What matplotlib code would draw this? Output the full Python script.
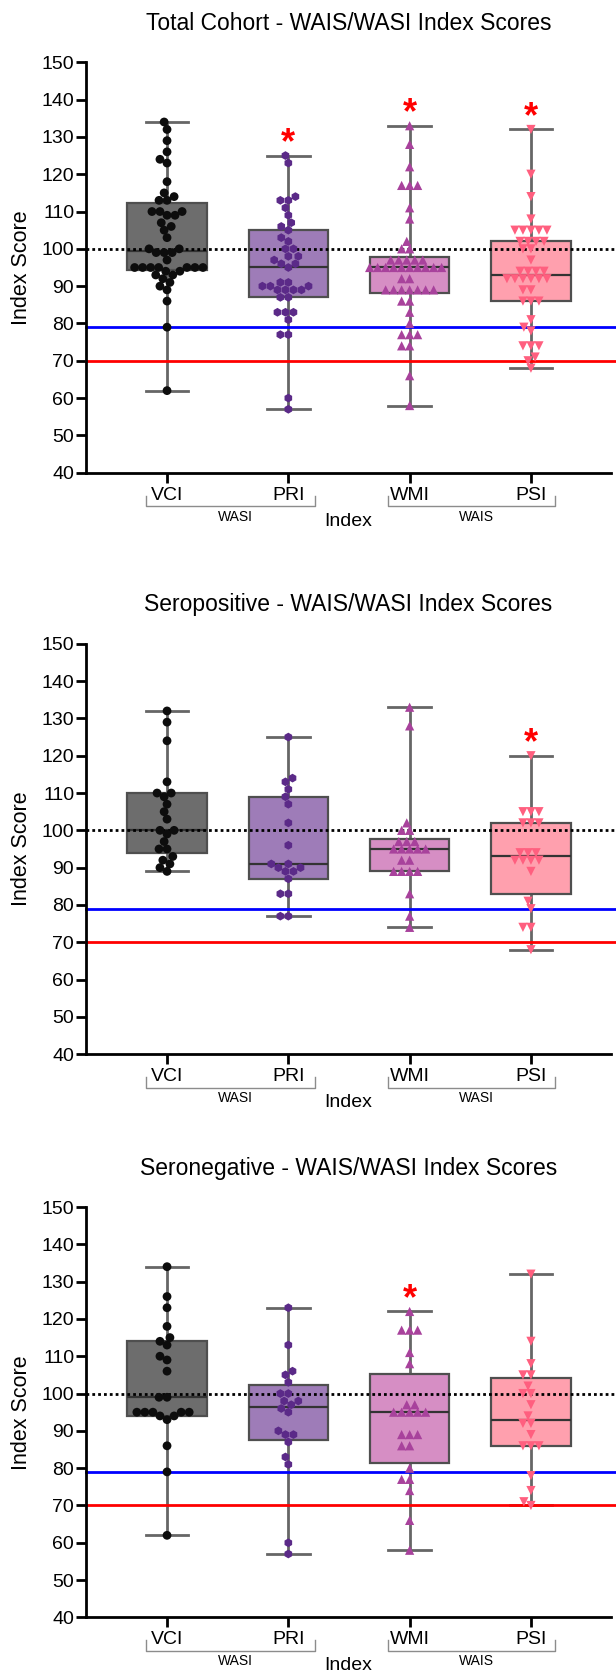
import numpy as np
import matplotlib
matplotlib.use('Agg')
import matplotlib.pyplot as plt
from matplotlib.transforms import blended_transform_factory

plt.rcParams['font.family'] = ['Liberation Sans', 'DejaVu Sans']

# ---------------- data ----------------
categories = ['VCI', 'PRI', 'WMI', 'PSI']
titles = ['Total Cohort - WAIS/WASI Index Scores',
          'Seropositive - WAIS/WASI Index Scores',
          'Seronegative - WAIS/WASI Index Scores']
group_labels = [['WASI', 'WAIS'], ['WASI', 'WASI'], ['WASI', 'WAIS']]

total_vci = [134, 132, 129, 126, 124, 123, 118, 115, 114, 113, 113, 110, 110, 110, 109, 109,
             107, 106, 105, 103, 100, 100, 99, 99, 99, 97, 95, 95, 95, 95, 95, 95, 95, 94, 94,
             93, 93, 92, 91, 90, 89, 86, 79, 62]
total_pri = [125, 123, 114, 113, 113, 111, 109, 107, 106, 105, 103, 102, 100, 100, 98, 98, 97,
             96, 96, 95, 91, 91, 90, 90, 90, 89, 89, 89, 89, 87, 87, 83, 83, 83, 81, 77, 77, 60, 57]
total_wmi = [133, 128, 122, 117, 117, 117, 111, 108, 102, 100, 100, 97, 97, 97, 97, 97,
             95, 95, 95, 95, 95, 95, 95, 95, 95, 95, 92, 92, 89, 89, 89, 89, 89, 89, 89,
             86, 86, 83, 80, 77, 77, 77, 74, 74, 66, 58]
total_psi = [132, 120, 114, 108, 105, 105, 105, 105, 105, 102, 102, 102, 102, 100, 100, 97,
             94, 94, 94, 94, 92, 92, 92, 92, 92, 92, 89, 89, 86, 86, 86, 81, 79, 78, 74, 74, 74,
             71, 70, 68]

pos_vci = [132, 129, 124, 113, 110, 110, 109, 107, 105, 103, 100, 100, 99, 97, 95, 95, 93, 92,
           91, 90, 89]
pos_pri = [125, 114, 113, 111, 109, 107, 102, 96, 91, 91, 90, 90, 89, 89, 87, 83, 83, 77, 77]
pos_wmi = [133, 128, 102, 100, 100, 97, 97, 97, 95, 95, 95, 95, 95, 92, 92, 89, 89, 89, 89,
           83, 77, 74]
pos_psi = [120, 105, 105, 105, 102, 102, 102, 94, 94, 94, 92, 92, 92, 92, 89, 81, 79, 74, 74, 68]

neg_vci = [134, 126, 123, 118, 115, 114, 113, 110, 109, 106, 99, 99, 95, 95, 95, 95, 95, 94, 94,
           93, 86, 79, 62]
neg_pri = [123, 113, 106, 105, 103, 100, 100, 98, 98, 97, 96, 95, 90, 89, 89, 87, 83, 81, 60, 57]
neg_wmi = [122, 117, 117, 117, 111, 108, 97, 97, 95, 95, 95, 95, 95, 89, 89, 89, 86, 86, 80,
           77, 77, 74, 66, 58]
neg_psi = [132, 114, 108, 105, 105, 102, 100, 100, 97, 94, 92, 92, 89, 86, 86, 86, 78, 74, 71, 70]

panels = [[total_vci, total_pri, total_wmi, total_psi],
          [pos_vci, pos_pri, pos_wmi, pos_psi],
          [neg_vci, neg_pri, neg_wmi, neg_psi]]
significant = [[False, True, True, True],
               [False, False, False, True],
               [False, False, True, False]]

ref_mean, ref_borderline, ref_impaired = 100, 79, 70

# ---------------- style ----------------
box_colors = ['#6d6d6d', '#9e7cb8', '#d68ec4', '#ffa0ae']
point_colors = ['#0d0d0d', '#5b2a88', '#a8429c', '#ff5f7f']
markers = ['o', 'h', '^', 'v']
marker_sizes = [40, 40, 44, 44]

W, H = 616, 1672
fig = plt.figure(figsize=(W / 100, H / 100), dpi=100)

ax_left, ax_right = 86, 611
panel_tops = [62.3, 643.8, 1207.0]
ax_h = 410.4
XL = (-0.668, 3.66)


def beeswarm(ypx, d):
    order = np.argsort(ypx, kind='stable')
    placed = []
    offs = np.zeros(len(ypx))
    for i in order:
        yi = ypx[i]
        neigh = [(px, py) for px, py in placed if abs(py - yi) < d]
        cands = [0.0]
        for px, py in neigh:
            dx = np.sqrt(d * d - (py - yi) ** 2)
            cands += [px + dx, px - dx]
        cands = sorted(cands, key=lambda c: (abs(c), c))
        chosen = cands[-1]
        for c in cands:
            if all((c - px) ** 2 + (yi - py) ** 2 >= d * d - 1e-6 for px, py in neigh):
                chosen = c
                break
        offs[i] = chosen
        placed.append((chosen, yi))
    return offs


for p, (data, title, glabels, sig) in enumerate(zip(panels, titles, group_labels, significant)):
    top = panel_tops[p]
    ax = fig.add_axes([ax_left / W, 1 - (top + ax_h) / H, (ax_right - ax_left) / W, ax_h / H])
    ax.set_xlim(*XL)
    ax.set_ylim(40, 150)

    stats = []
    for vals in data:
        v = np.asarray(vals, dtype=float)
        q1, med, q3 = np.percentile(v, [25, 50, 75], method='weibull')
        stats.append(dict(med=med, q1=q1, q3=q3, whislo=v.min(), whishi=v.max(), fliers=[]))
    bp = ax.bxp(stats, positions=range(4), widths=0.655, capwidths=0.35, patch_artist=True,
                showfliers=False,
                boxprops=dict(edgecolor='#4f4f4f', linewidth=1.6, zorder=1),
                whiskerprops=dict(color='#666666', linewidth=2.0, zorder=0.9),
                capprops=dict(color='#666666', linewidth=2.0, zorder=0.9),
                medianprops=dict(color='#333333', linewidth=1.6, zorder=1.2))
    for patch, c in zip(bp['boxes'], box_colors):
        patch.set_facecolor(c)

    frac_end = (W - ax_left) / (ax_right - ax_left)
    ax.axhline(ref_mean, xmin=0, xmax=frac_end, color='black', lw=2.0,
               linestyle=(0, (1, 1.1)), zorder=2, clip_on=False)
    ax.axhline(ref_borderline, xmin=0, xmax=frac_end, color='#0000ff', lw=2.0, zorder=2,
               clip_on=False)
    ax.axhline(ref_impaired, xmin=0, xmax=frac_end, color='#ff0000', lw=2.0, zorder=2,
               clip_on=False)

    # swarm offsets computed in pixel space
    fig.canvas.draw()
    bb = ax.get_window_extent()
    px_per_x = bb.width / (XL[1] - XL[0])
    px_per_y = bb.height / 110.0
    d = 8.0
    for i, vals in enumerate(data):
        v = np.asarray(vals, dtype=float)
        offs = beeswarm(v * px_per_y, d) / px_per_x
        ax.scatter(i + offs, v, s=marker_sizes[i], marker=markers[i], color=point_colors[i],
                   edgecolors='none', zorder=3, clip_on=False)

    for i, s in enumerate(sig):
        if s:
            ax.annotate('*', xy=(i, stats[i]['whishi']), xytext=(0, 1.5),
                        textcoords='offset points', ha='center', va='baseline',
                        color='#ff0000', fontsize=26, fontweight='bold')

    for side in ['top', 'right']:
        ax.spines[side].set_visible(False)
    for side in ['left', 'bottom']:
        ax.spines[side].set_linewidth(2.0)
    ax.set_yticks(np.arange(40, 151, 10))
    ax.set_xticks(range(4))
    ax.set_xticklabels(categories)
    ax.tick_params(axis='both', width=2.0, length=7, labelsize=14, color='black')
    ax.tick_params(axis='y', pad=1.5)
    ax.tick_params(axis='x', pad=3)

    ax.text(0.5, 1 + 39 / ax_h, title, transform=ax.transAxes, ha='center', va='center',
            fontsize=16.5)
    ax.text((21.7 - ax_left) / (ax_right - ax_left), 0.5, 'Index Score', transform=ax.transAxes,
            rotation=90, ha='center', va='center', fontsize=15.5)
    ax.text(0.5, -48.5 / ax_h, 'Index', transform=ax.transAxes, ha='center', va='center',
            fontsize=14)

    tr = blended_transform_factory(ax.transData, ax.transAxes)
    y_top, y_bot = -23 / ax_h, -33.5 / ax_h
    for (x0, x1), lab in zip([(-0.17, 1.22), (1.82, 3.2)], glabels):
        ax.plot([x0, x0, x1, x1], [y_top, y_bot, y_bot, y_top], color='#8c8c8c', lw=1.0,
                transform=tr, clip_on=False)
        ax.text((x0 + x1) / 2 + 0.04, -44 / ax_h, lab, transform=tr, ha='center', va='center',
                fontsize=10)

fig.savefig('out.png', dpi=100)
